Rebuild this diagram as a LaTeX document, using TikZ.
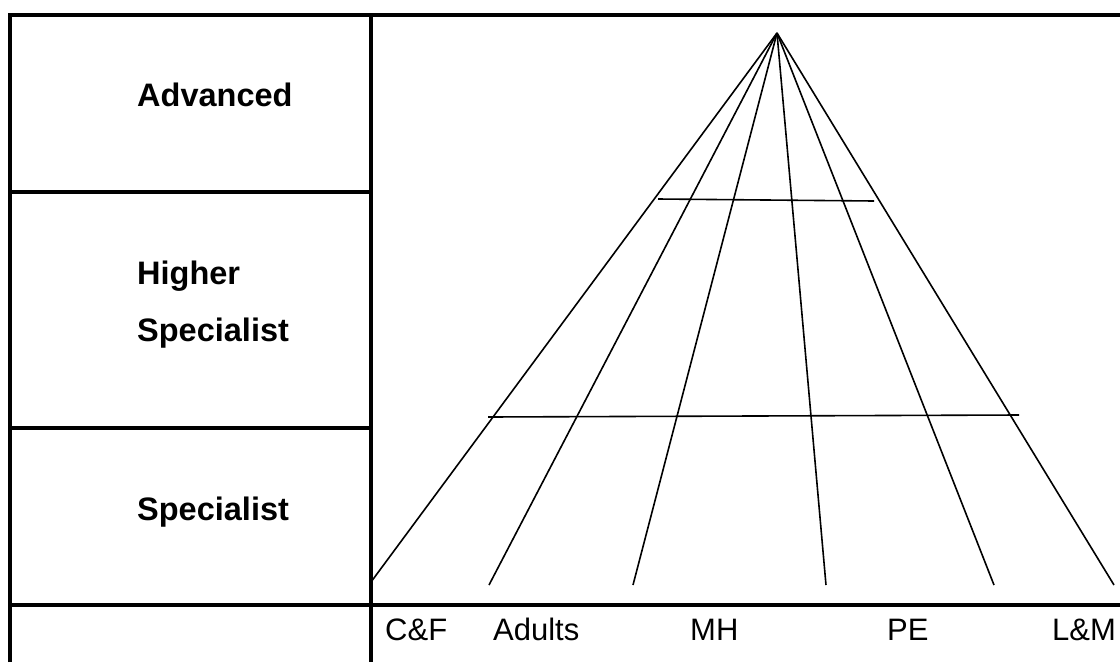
\documentclass[tikz,border=0pt]{standalone}
\usepackage{fontspec}
\setmainfont{Liberation Sans}
\begin{document}
\begin{tikzpicture}[x=1pt,y=-1pt,
  frame/.style={line width=4pt},
  thin/.style={line width=1.6pt},
  lvl/.style={anchor=base west,inner sep=0pt,font=\fontsize{32.5}{38}\selectfont\bfseries},
  col/.style={anchor=base west,inner sep=0pt,font=\fontsize{31}{37}\selectfont}]
\useasboundingbox (0,0) rectangle (1120,662);
% table frame
\draw[frame] (10,662) -- (10,15) -- (1120,15);
\draw[frame] (371,15) -- (371,662);
\draw[frame] (10,192) -- (371,192);
\draw[frame] (10,428) -- (371,428);
\draw[frame] (10,605) -- (1120,605);
% level labels
\node[lvl] (adv) at (137,106) {Advanced};
\node[lvl] (hi1) at (137,284) {Higher};
\node[lvl] (hi2) at (137,341) {Specialist};
\node[lvl] (spc) at (137,520) {Specialist};
% column labels
\node[col] (cf) at (385,640) {C\&F};
\node[col] (ad) at (493,640) {Adults};
\node[col] (mh) at (690,640) {MH};
\node[col] (pe) at (887,640) {PE};
\node[col] (lm) at (1052,640) {L\&M};
% fan
\coordinate (apex) at (777,33);
\coordinate (e1) at (371,582);
\coordinate (e2) at (489,585);
\coordinate (e3) at (633,585);
\coordinate (e4) at (826,585);
\coordinate (e5) at (994,585);
\coordinate (e6) at (1114,585);
\foreach \e in {e1,e2,e3,e4,e5,e6} \draw[thin] (apex) -- (\e);
% cross lines
\coordinate (u1) at (658,199);
\coordinate (u2) at (874,201);
\coordinate (l1) at (488,417);
\coordinate (l2) at (1019,415);
\draw[thin] (u1) -- (u2);
\draw[thin] (l1) -- (l2);
\end{tikzpicture}
\end{document}
